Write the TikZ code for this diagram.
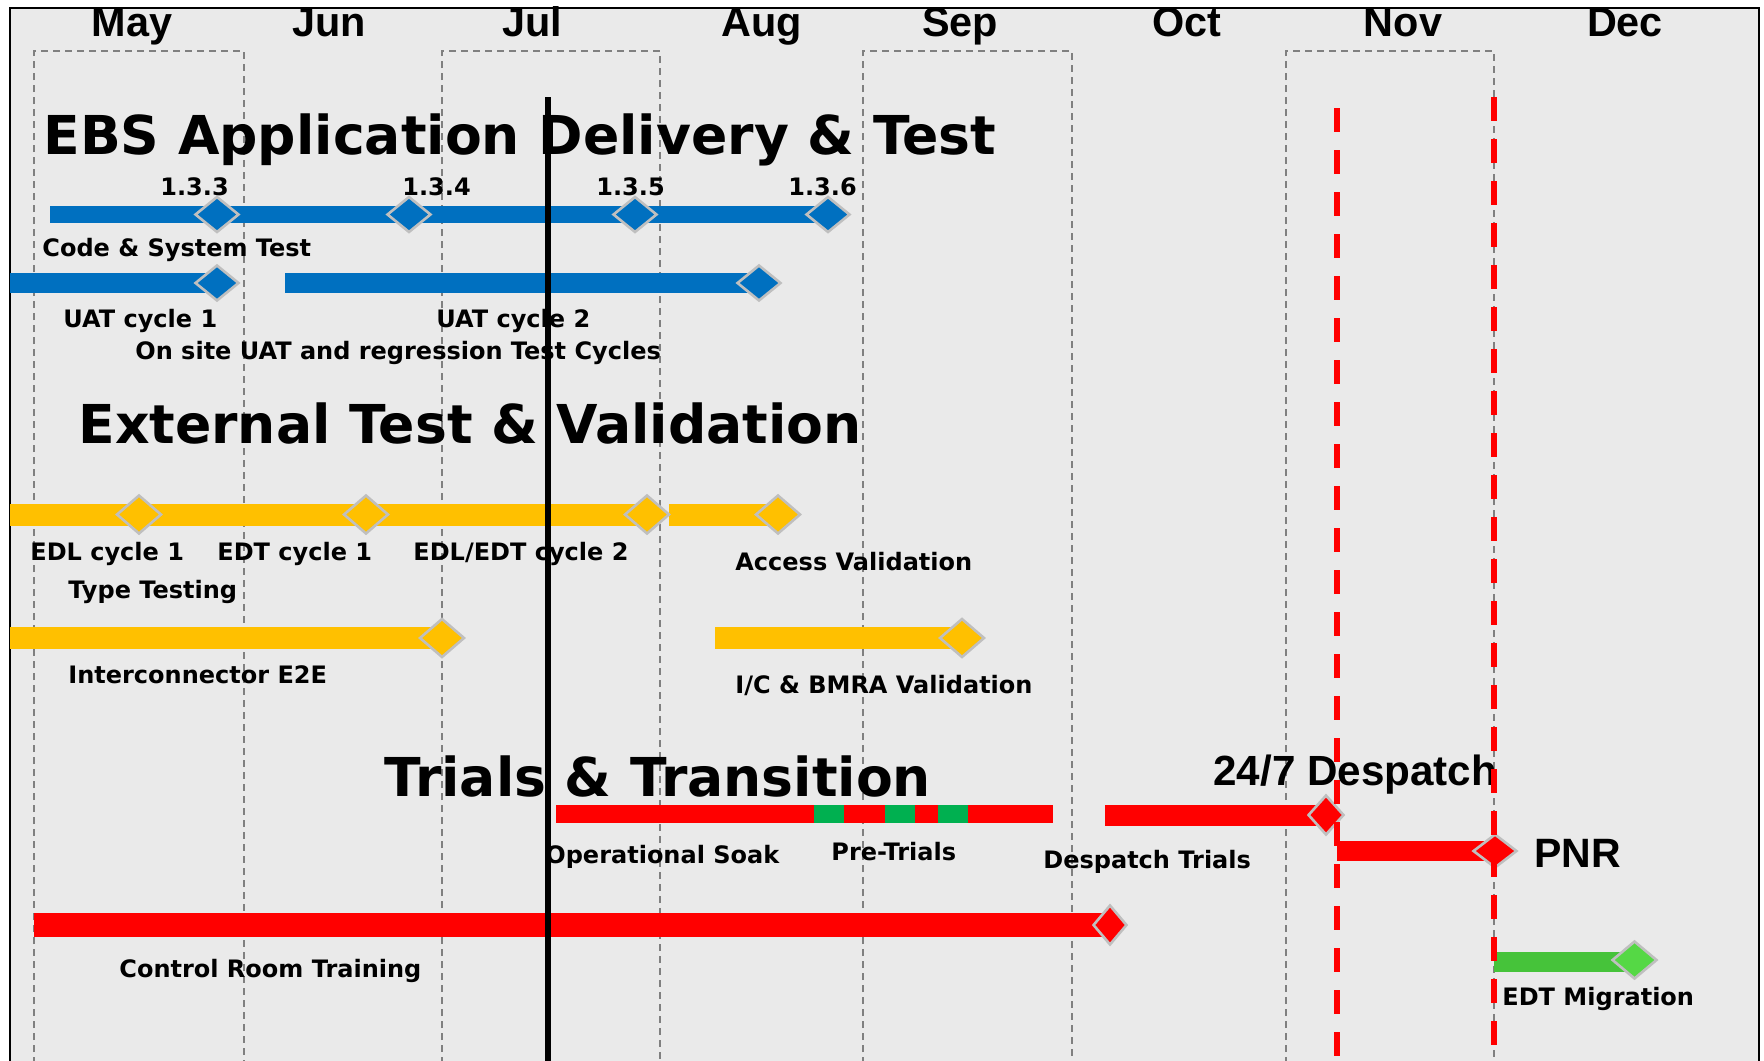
\documentclass[tikz,border=0pt]{standalone}
\usepackage{fontspec}
\newfontfamily\verdfont{DejaVu Sans}
\newfontfamily\arialfont{Liberation Sans}
\usetikzlibrary{shapes.geometric}
\definecolor{panelgray}{HTML}{EAEAEA}
\definecolor{ebsblue}{HTML}{0070C0}
\definecolor{extyellow}{HTML}{FFC000}
\definecolor{trialred}{HTML}{FF0000}
\definecolor{soakgreen}{HTML}{00B050}
\definecolor{migbar}{HTML}{46C33A}
\definecolor{migdia}{HTML}{55D845}
\definecolor{msborder}{HTML}{BFBFBF}
\definecolor{gridgray}{HTML}{808080}
\pgfdeclarelayer{back}
\pgfdeclarelayer{bars}
\pgfdeclarelayer{front}
\pgfsetlayers{back,bars,main,front}

\begin{document}
\begin{tikzpicture}[x=0.5pt,y=-0.5pt,
    month/.style={font={\arialfont\bfseries\fontsize{20.7}{24}\selectfont},anchor=base,inner sep=0},
    title/.style={font={\verdfont\bfseries\fontsize{26.8}{30}\selectfont},anchor=base west,inner sep=0},
    lbl/.style={font={\verdfont\bfseries\fontsize{12}{14}\selectfont},anchor=base west,inner sep=0},
    bar/.style={line width=#1,line cap=butt},
    ms/.style 2 args={diamond,draw=msborder,line width=1.3pt,inner sep=0,minimum width=#1,minimum height=#2},
    colbox/.style={draw=gridgray,line width=0.75pt,dash pattern=on 3.5pt off 2.5pt},
    reddash/.style={draw=trialred,line width=2.6pt,dash pattern=on 12pt off 9pt}]

\useasboundingbox (0,0) rectangle (1764,1060);
\clip (0,0) rectangle (1764,1060);

\begin{pgfonlayer}{back}
    \draw[fill=panelgray,line width=1.2pt] (10,8) rectangle (1759,1100);
    \foreach \a/\b in {34/244,442/660,863/1072,1286/1494}
        \draw[colbox] (\a,1100) -- (\a,51) -- (\b,51) -- (\b,1100);
\end{pgfonlayer}

\foreach \m/\x in {May/132,Jun/329,Jul/532,Aug/762,Sep/960,Oct/1187,Nov/1403,Dec/1625}
    \node[month] (\m) at (\x,36) {\m};

% EBS
\node[title] (ebs) at (43,154) {EBS Application Delivery \& Test};
\foreach \n/\x in {3/217,4/409,5/635,6/828}
    \node[ms={22pt}{18pt},fill=ebsblue] (rel\n) at (\x,214.5) {};
\node[ms={22pt}{18pt},fill=ebsblue] (uat1) at (217,283) {};
\node[ms={22pt}{18pt},fill=ebsblue] (uat2) at (759,283) {};
\coordinate (cst) at (50,214.5);
\coordinate (uat1s) at (10,283);
\coordinate (uat2s) at (285,283);
\begin{pgfonlayer}{bars}
    \draw[bar=8.5pt,ebsblue] (cst) -- (rel6.center);
    \draw[bar=10pt,ebsblue] (uat1s) -- (uat1.center);
    \draw[bar=10pt,ebsblue] (uat2s) -- (uat2.center);
\end{pgfonlayer}
\node[lbl] (lrel3) at (160,195) {1.3.3};
\node[lbl] (lrel4) at (402,195) {1.3.4};
\node[lbl] (lrel5) at (596,195) {1.3.5};
\node[lbl] (lrel6) at (788,195) {1.3.6};
\node[lbl] (lcst) at (42,256) {Code \& System Test};
\node[lbl] (luat1) at (63,327) {UAT cycle 1};
\node[lbl] (luat2) at (436,327) {UAT cycle 2};
\node[lbl] (lonsite) at (135,359) {On site UAT and regression Test Cycles};

% external test
\node[title] (ext) at (78,443) {External Test \& Validation};
\node[ms={22.5pt}{19.5pt},fill=extyellow] (edl1) at (139,514.5) {};
\node[ms={22.5pt}{19.5pt},fill=extyellow] (edt1) at (366,514.5) {};
\node[ms={22.5pt}{19.5pt},fill=extyellow] (edl2) at (647,514.5) {};
\node[ms={22.5pt}{19.5pt},fill=extyellow] (acc) at (778,514.5) {};
\node[ms={22.5pt}{19.5pt},fill=extyellow] (ice) at (442,638) {};
\node[ms={22.5pt}{19.5pt},fill=extyellow] (bmra) at (962,638) {};
\coordinate (tts) at (10,514.5);
\coordinate (accs) at (669,514.5);
\coordinate (ices) at (10,638);
\coordinate (bmras) at (715,638);
\begin{pgfonlayer}{bars}
    \draw[bar=11pt,extyellow] (tts) -- (edl2.center);
    \draw[bar=11pt,extyellow] (accs) -- (acc.center);
    \draw[bar=11pt,extyellow] (ices) -- (ice.center);
    \draw[bar=11pt,extyellow] (bmras) -- (bmra.center);
\end{pgfonlayer}
\node[lbl] (ledl1) at (30,560) {EDL cycle 1};
\node[lbl] (ledt1) at (217,560) {EDT cycle 1};
\node[lbl] (ledl2) at (413,560) {EDL/EDT cycle 2};
\node[lbl] (lacc) at (735,570) {Access Validation};
\node[lbl] (ltype) at (68,598) {Type Testing};
\node[lbl] (lice) at (68,683) {Interconnector E2E};
\node[lbl] (lbmra) at (735,693) {I/C \& BMRA Validation};

% trials
\node[title] (trials) at (384,796) {Trials \& Transition};
\node[ms={18pt}{20pt},fill=trialred] (dtr) at (1326,815) {};
\node[ms={22pt}{17pt},fill=trialred] (pnr) at (1495,851) {};
\node[ms={17pt}{20pt},fill=trialred] (crt) at (1110,925) {};
\node[ms={22.5pt}{19pt},fill=migdia] (mig) at (1634.5,960) {};
\coordinate (soaks) at (556,814);
\coordinate (soake) at (1053,814);
\coordinate (dtrs) at (1105,815);
\coordinate (pnrs) at (1337,851);
\coordinate (crts) at (34,925);
\coordinate (migs) at (1494,962);
\begin{pgfonlayer}{bars}
    \draw[bar=9pt,trialred] (soaks) -- (soake);
    \foreach \a in {814,885,938}
        \fill[soakgreen] (\a,805) rectangle ++(30,18);
    \draw[bar=10.5pt,trialred] (dtrs) -- (dtr.center);
    \draw[bar=10pt,trialred] (pnrs) -- (pnr.center);
    \draw[bar=12pt,trialred] (crts) -- (crt.center);
    \draw[bar=10pt,migbar] (migs) -- (migs -| mig.center);
\end{pgfonlayer}
\node[lbl] (lsoak) at (545,863) {Operational Soak};
\node[lbl] (lpre) at (831,860) {Pre-Trials};
\node[lbl] (ldtr) at (1043,868) {Despatch Trials};
\node[lbl] (lcrt) at (119,977) {Control Room Training};
\node[lbl] (lmig) at (1502,1005) {EDT Migration};
\node[font={\arialfont\bfseries\fontsize{21.1}{25}\selectfont},anchor=base west,inner sep=0] (l247) at (1213,785) {24/7 Despatch};
\node[font={\arialfont\bfseries\fontsize{20.5}{24}\selectfont},anchor=base west,inner sep=0] (lpnr) at (1534,867) {PNR};

\coordinate (now0) at (548,97);
\coordinate (now1) at (548,1100);
\coordinate (desp0) at (1337,108);
\coordinate (desp1) at (1337,1100);
\coordinate (pnr0) at (1494,97);
\coordinate (pnr1) at (1494,1100);
\begin{pgfonlayer}{front}
    \draw[line width=3pt] (now0) -- (now1);
    \draw[reddash] (desp0) -- (desp1);
    \draw[reddash] (pnr0) -- (pnr1);
\end{pgfonlayer}
\end{tikzpicture}
\end{document}
